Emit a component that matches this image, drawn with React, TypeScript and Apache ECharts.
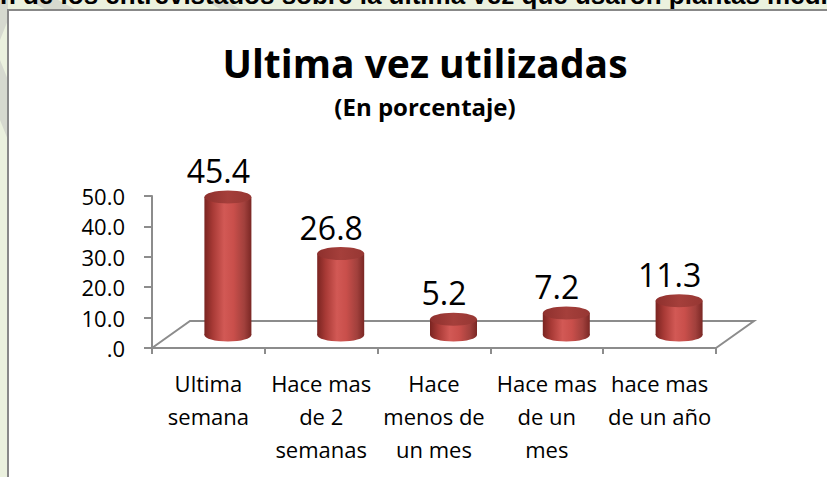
import React, { useEffect, useRef } from 'react';
import * as echarts from 'echarts';

const categories = ['Ultima\nsemana', 'Hace mas\nde 2\nsemanas', 'Hace\nmenos de\nun mes', 'Hace mas\nde un\nmes', 'hace mas\nde un año'];
const values = [45.4, 26.8, 5.2, 7.2, 11.3];
const yMin = 0;
const yMax = 50;
const yStep = 10;
const titleText = 'Ultima vez utilizadas';
const subtitleText = '(En porcentaje)';
const headerText = 'ón de los entrevistados sobre la última vez que usaron plantas medicinales';

export default function App() {
  const ref = useRef<HTMLDivElement>(null);
  useEffect(() => {
    const chart = echarts.init(ref.current!, null, { renderer: 'svg' });
    const DX = 38, DY = -27;
    const CX = 19.5, CY = -13;
    const RX = 23.5, RY = 6.5;
    const axisColor = '#8c8c8c';
    const font = 'Open Sans';
    const bodyStops = [
      { offset: 0, color: '#7a2421' },
      { offset: 0.18, color: '#a83a36' },
      { offset: 0.42, color: '#d25955' },
      { offset: 0.62, color: '#c94f4b' },
      { offset: 0.85, color: '#a1403c' },
      { offset: 1, color: '#7a2724' },
    ];
    const topStops = [
      { offset: 0, color: '#8e302d' },
      { offset: 0.5, color: '#a53f3b' },
      { offset: 1, color: '#963733' },
    ];
    chart.setOption({
      animation: false,
      backgroundColor: '#ebf1de',
      title: {
        text: titleText,
        subtext: subtitleText,
        left: 420,
        top: 38,
        textAlign: 'center',
        itemGap: 12,
        textStyle: { fontFamily: font, fontWeight: 'bold', fontSize: 39, color: '#000' },
        subtextStyle: { fontFamily: font, fontWeight: 'bold', fontSize: 24, color: '#000' },
      },
      graphic: [
        { type: 'polygon', z: -5, shape: { points: [[28, 0], [58, 0], [80, 12], [50, 12]] }, style: { fill: '#d6d9cf' } },
        { type: 'polygon', z: -5, shape: { points: [[205, 0], [225, 0], [245, 12], [225, 12]] }, style: { fill: '#d6d9cf' } },
        { type: 'polygon', z: -5, shape: { points: [[0, 0], [8, 0], [8, 20], [0, 40]] }, style: { fill: '#d6d9cf' } },
        { type: 'polygon', z: -5, shape: { points: [[0, 60], [8, 80], [8, 140], [0, 120]] }, style: { fill: '#d6d9cf' } },
        {
          type: 'text', z: -4, x: -16, y: 8,
          style: { text: headerText, fontFamily: 'Liberation Sans', fontWeight: 'bold', fontSize: 26, fill: '#000', verticalAlign: 'bottom' },
        },
        {
          type: 'rect', z: -3,
          shape: { x: 8, y: 10, width: 840, height: 490 },
          style: { fill: '#ffffff', stroke: '#888888', lineWidth: 2 },
        },
      ],
      grid: { left: 152, right: 111, top: 196, bottom: 129 },
      xAxis: {
        type: 'category',
        data: categories,
        boundaryGap: true,
        axisLine: { lineStyle: { color: axisColor, width: 2 } },
        axisTick: { show: true, length: 6, lineStyle: { color: axisColor, width: 2 } },
        axisLabel: { interval: 0, fontFamily: font, fontSize: 22, color: '#000', lineHeight: 33, margin: 18 },
      },
      yAxis: {
        type: 'value',
        min: yMin,
        max: yMax,
        interval: yStep,
        splitLine: { show: false },
        axisLine: { show: true, lineStyle: { color: axisColor, width: 2 } },
        axisTick: { show: true, length: 8, lineStyle: { color: axisColor, width: 2 } },
        axisLabel: {
          fontFamily: font, fontSize: 22, color: '#000', margin: 27,
          formatter: (v: number) => (v === 0 ? '.0' : v.toFixed(1)),
        },
      },
      series: [
        {
          type: 'custom',
          z: 1,
          silent: true,
          data: [[0, 0]],
          renderItem: (params: any) => {
            const cs = params.coordSys;
            const x0 = cs.x, y0 = cs.y + cs.height, x1 = cs.x + cs.width;
            return {
              type: 'polyline',
              shape: { points: [[x0, y0], [x0 + DX, y0 + DY], [x1 + DX, y0 + DY], [x1, y0]] },
              style: { stroke: axisColor, lineWidth: 2, fill: 'none' },
            };
          },
        },
        {
          type: 'custom',
          z: 3,
          silent: true,
          encode: { x: 0, y: 1 },
          data: values.map((v, i) => [i, v]),
          renderItem: (params: any, api: any) => {
            const i = api.value(0);
            const v = api.value(1);
            const base = api.coord([i, 0]);
            const top = api.coord([i, v]);
            const cx = base[0] + CX;
            const by = base[1] + CY;
            const ty = top[1] + CY;
            const body = new echarts.graphic.LinearGradient(0, 0, 1, 0, bodyStops);
            const cap = new echarts.graphic.LinearGradient(0, 0, 1, 0, topStops);
            return {
              type: 'group',
              children: [
                { type: 'ellipse', shape: { cx, cy: by, rx: RX, ry: RY }, style: { fill: body } },
                { type: 'rect', shape: { x: cx - RX, y: ty, width: RX * 2, height: by - ty }, style: { fill: body } },
                { type: 'ellipse', shape: { cx, cy: ty, rx: RX, ry: RY }, style: { fill: cap } },
                {
                  type: 'text',
                  x: base[0] + 10,
                  y: ty - RY - 4,
                  style: { text: v.toFixed(1), fontFamily: font, fontSize: 32, fill: '#000', align: 'center', verticalAlign: 'bottom' },
                },
              ],
            };
          },
        },
      ],
    });
    return () => chart.dispose();
  }, []);
  return <div ref={ref} style={{ position: 'fixed', left: 0, top: 0, width: 827, height: 477 }} />;
}
